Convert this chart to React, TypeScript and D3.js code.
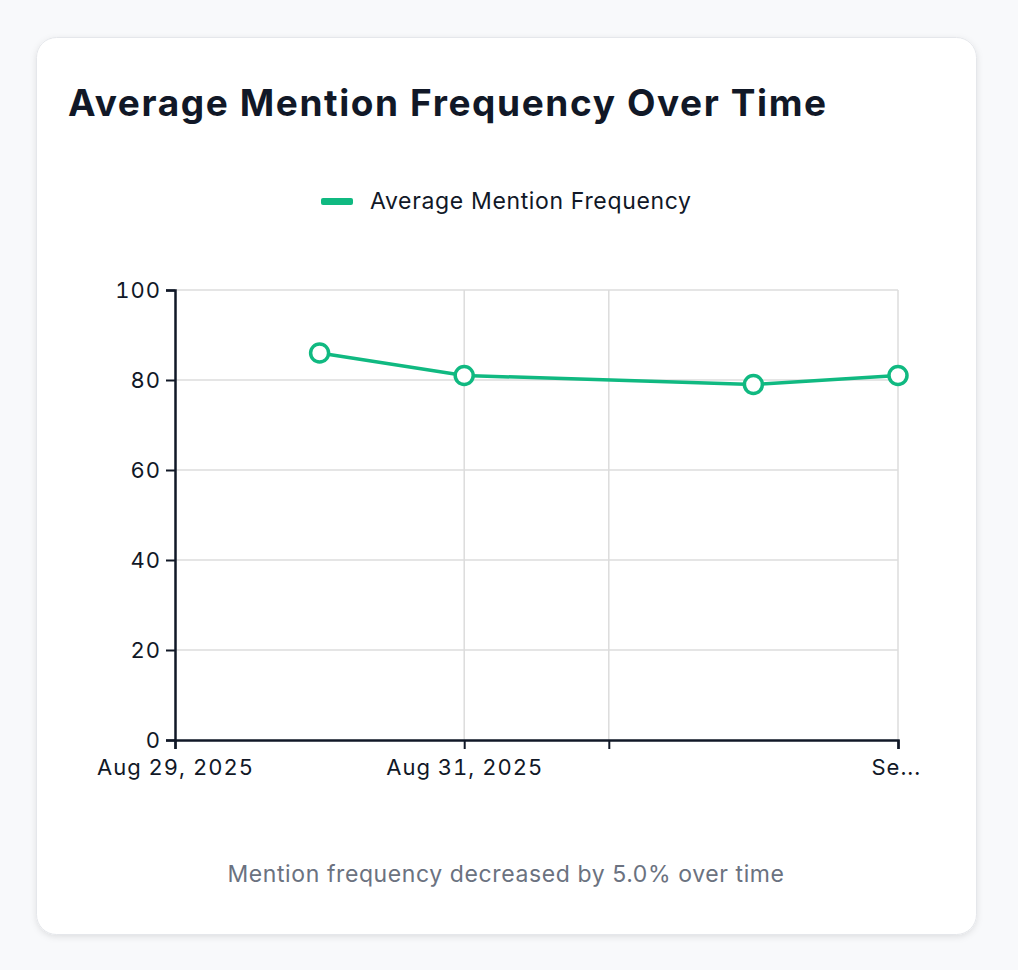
import * as d3 from "d3";
import { useEffect, useRef } from "react";

// data
const dates = ["2025-08-30", "2025-08-31", "2025-09-02", "2025-09-03"];
const mentionFrequency = [86, 81, 79, 81];
const xTickDates = ["2025-08-29", "2025-08-31", "2025-09-01", "2025-09-03"];
const xTickLabels = ["Aug 29, 2025", "Aug 31, 2025", "", "Se..."];
const yTicks = [0, 20, 40, 60, 80, 100];
const seriesName = "Average Mention Frequency";
const title = "Average Mention Frequency Over Time";
const footnote = "Mention frequency decreased by 5.0% over time";

const width = 1018;
const height = 970;
const green = "#10b981";
const font = "Inter, 'Noto Sans', sans-serif";

export default function App() {
  const svgRef = useRef<SVGSVGElement>(null);

  useEffect(() => {
    if (!svgRef.current) return;
    const svg = d3.select(svgRef.current);
    svg.selectAll("*").remove();

    const parse = d3.utcParse("%Y-%m-%d");
    const x = d3
      .scaleUtc()
      .domain([parse(xTickDates[0])!, parse(xTickDates[xTickDates.length - 1])!])
      .range([175, 898]);
    const y = d3.scaleLinear().domain([0, 100]).range([740, 290]);

    // page + card
    svg.append("rect").attr("width", width).attr("height", height).attr("fill", "#f8f9fb");
    const defs = svg.append("defs");
    const f = defs.append("filter").attr("id", "shadow").attr("x", "-5%").attr("y", "-5%").attr("width", "110%").attr("height", "110%");
    f.append("feDropShadow").attr("dx", 0).attr("dy", 2).attr("stdDeviation", 3).attr("flood-color", "#000").attr("flood-opacity", 0.1);
    svg.append("rect")
      .attr("x", 36.5).attr("y", 37.5).attr("width", 940).attr("height", 897)
      .attr("rx", 20).attr("fill", "#fff").attr("stroke", "#e5e7eb")
      .attr("filter", "url(#shadow)");

    svg.append("text")
      .attr("x", 68).attr("y", 116)
      .attr("font-family", font).attr("font-size", 37).attr("font-weight", 700)
      .attr("letter-spacing", 1.6)
      .attr("fill", "#111827").text(title);

    // legend
    svg.append("rect").attr("x", 321).attr("y", 198).attr("width", 32).attr("height", 7).attr("rx", 2).attr("fill", green);
    svg.append("text")
      .attr("x", 370).attr("y", 209)
      .attr("font-family", font).attr("font-size", 23).attr("letter-spacing", 0.65).attr("fill", "#111827")
      .text(seriesName);

    // grid
    const grid = svg.append("g").attr("stroke", "#dcdcdc").attr("stroke-width", 1.5);
    grid.selectAll("line.h").data(yTicks.filter(t => t > 0)).join("line")
      .attr("x1", x.range()[0]).attr("x2", x.range()[1])
      .attr("y1", d => y(d)).attr("y2", d => y(d));
    grid.selectAll("line.v").data(xTickDates.slice(1)).join("line")
      .attr("x1", d => x(parse(d)!)).attr("x2", d => x(parse(d)!))
      .attr("y1", y(100)).attr("y2", y(0));

    // axes
    const yAxis = svg.append("g")
      .attr("transform", `translate(${x.range()[0]},0)`)
      .call(d3.axisLeft(y).tickValues(yTicks).tickSize(9).tickPadding(5));
    const xAxis = svg.append("g")
      .attr("transform", `translate(0,${y(0)})`)
      .call(
        d3.axisBottom(x)
          .tickValues(xTickDates.map(d => parse(d)!))
          .tickSize(9).tickPadding(3)
          .tickFormat((_, i) => xTickLabels[i])
      );
    for (const ax of [xAxis, yAxis]) {
      ax.select(".domain").attr("stroke", "#111827").attr("stroke-width", 2.5);
      ax.selectAll(".tick line").attr("stroke", "#111827").attr("stroke-width", 2);
      ax.selectAll(".tick text")
        .attr("font-family", font).attr("font-size", 22).attr("letter-spacing", 1)
        .style("font-variant-numeric", "tabular-nums")
        .attr("fill", "#111827");
    }
    xAxis.selectAll(".tick text").attr("dy", "1.05em");
    xAxis.selectAll<SVGTextElement, unknown>(".tick text")
      .filter((_, i) => i === xTickLabels.length - 1)
      .attr("text-anchor", "start").attr("dx", -27);

    // line
    const pts = dates.map((d, i) => ({ date: parse(d)!, value: mentionFrequency[i] }));
    const line = d3.line<{ date: Date; value: number }>().x(d => x(d.date)).y(d => y(d.value));
    svg.append("path").datum(pts)
      .attr("fill", "none").attr("stroke", green).attr("stroke-width", 3.5).attr("d", line);
    svg.selectAll("circle.dot").data(pts).join("circle")
      .attr("cx", d => x(d.date)).attr("cy", d => y(d.value)).attr("r", 9)
      .attr("fill", "#fff").attr("stroke", green).attr("stroke-width", 3.5);

    svg.append("text")
      .attr("x", 506).attr("y", 882).attr("text-anchor", "middle")
      .attr("font-family", font).attr("font-size", 23).attr("letter-spacing", 0.6).attr("fill", "#6b7280")
      .text(footnote);
  }, []);

  return (
    <svg
      ref={svgRef}
      width={width}
      height={height}
      style={{ position: "absolute", left: 0, top: 0, display: "block" }}
    />
  );
}
